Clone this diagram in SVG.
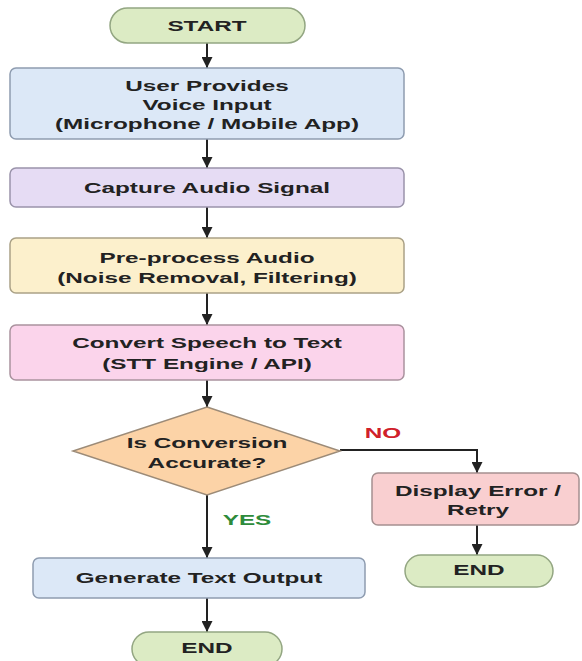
<svg xmlns="http://www.w3.org/2000/svg" width="582" height="661" viewBox="0 0 582 661">
  <style>
    .lbl { font-family: "Liberation Sans", Arial, sans-serif; font-weight: bold; font-size: 15px; fill: #222; text-anchor: middle; }
    .no { fill: #d0202a; }
    .yes { fill: #2e8b3a; }
    .shape { stroke-width: 1.5; }
    .term { fill: #dcebc4; stroke: #93a682; }
    .blue { fill: #dce8f7; stroke: #8e9cb0; }
    .lav { fill: #e6dcf4; stroke: #9a93aa; }
    .yel { fill: #fcf0cc; stroke: #aaa186; }
    .pink { fill: #fbd4eb; stroke: #aa929e; }
    .dia { fill: #fcd3a7; stroke: #9c8b78; }
    .err { fill: #f9cfd0; stroke: #a59090; }
    .wire { fill: none; stroke: #222; stroke-width: 2; marker-end: url(#head); }
  </style>
  <defs>
    <marker id="head" viewBox="0 0 10 10" refX="10" refY="5" markerWidth="5.5" markerHeight="5.5" markerUnits="strokeWidth" orient="auto">
      <path d="M0,0 L10,5 L0,10 z" fill="#222"/>
    </marker>
  </defs>

  <rect width="582" height="661" fill="#ffffff"/>

  <!-- connectors -->
  <g id="connectors">
    <line class="wire" x1="207" y1="43" x2="207" y2="68"/>
    <line class="wire" x1="207" y1="139" x2="207" y2="168"/>
    <line class="wire" x1="207" y1="207" x2="207" y2="238"/>
    <line class="wire" x1="207" y1="293" x2="207" y2="325"/>
    <line class="wire" x1="207" y1="380" x2="207" y2="407"/>
    <line class="wire" x1="207" y1="495" x2="207" y2="558"/>
    <line class="wire" x1="207" y1="598" x2="207" y2="632"/>
    <polyline class="wire" points="340,450 477,450 477,473"/>
    <line class="wire" x1="477" y1="525" x2="477" y2="555"/>
    <text class="lbl no" transform="translate(383 438) scale(1.62 1)">NO</text>
    <text class="lbl yes" transform="translate(247 525) scale(1.62 1)">YES</text>
  </g>

  <g id="start">
    <rect class="shape term" x="110" y="8" width="195" height="35" rx="17.5"/>
    <text class="lbl" transform="translate(207 31) scale(1.62 1)">START</text>
  </g>

  <g id="voice-input">
    <rect class="shape blue" x="10" y="68" width="394" height="71" rx="6"/>
    <text class="lbl" transform="translate(207 91) scale(1.62 1)">User Provides</text>
    <text class="lbl" transform="translate(207 110) scale(1.62 1)">Voice Input</text>
    <text class="lbl" transform="translate(207 129) scale(1.62 1)">(Microphone / Mobile App)</text>
  </g>

  <g id="capture">
    <rect class="shape lav" x="10" y="168" width="394" height="39" rx="6"/>
    <text class="lbl" transform="translate(207 193) scale(1.62 1)">Capture Audio Signal</text>
  </g>

  <g id="preprocess">
    <rect class="shape yel" x="10" y="238" width="394" height="55" rx="6"/>
    <text class="lbl" transform="translate(207 263) scale(1.62 1)">Pre-process Audio</text>
    <text class="lbl" transform="translate(207 283) scale(1.62 1)">(Noise Removal, Filtering)</text>
  </g>

  <g id="stt">
    <rect class="shape pink" x="10" y="325" width="394" height="55" rx="6"/>
    <text class="lbl" transform="translate(207 348) scale(1.62 1)">Convert Speech to Text</text>
    <text class="lbl" transform="translate(207 369) scale(1.62 1)">(STT Engine / API)</text>
  </g>

  <g id="decision">
    <polygon class="shape dia" points="207,407 340,451 207,495 73,451"/>
    <text class="lbl" transform="translate(207 448) scale(1.62 1)">Is Conversion</text>
    <text class="lbl" transform="translate(207 468) scale(1.62 1)">Accurate?</text>
  </g>

  <g id="error">
    <rect class="shape err" x="372" y="473" width="207" height="52" rx="6"/>
    <text class="lbl" transform="translate(478 496) scale(1.62 1)">Display Error /</text>
    <text class="lbl" transform="translate(478 515) scale(1.62 1)">Retry</text>
  </g>

  <g id="end-error">
    <rect class="shape term" x="405" y="555" width="148" height="32" rx="16"/>
    <text class="lbl" transform="translate(479 575) scale(1.62 1)">END</text>
  </g>

  <g id="output">
    <rect class="shape blue" x="33" y="558" width="332" height="40" rx="6"/>
    <text class="lbl" transform="translate(199 583) scale(1.62 1)">Generate Text Output</text>
  </g>

  <g id="end-output">
    <rect class="shape term" x="132" y="632" width="150" height="34" rx="17"/>
    <text class="lbl" transform="translate(207 653) scale(1.62 1)">END</text>
  </g>
</svg>
